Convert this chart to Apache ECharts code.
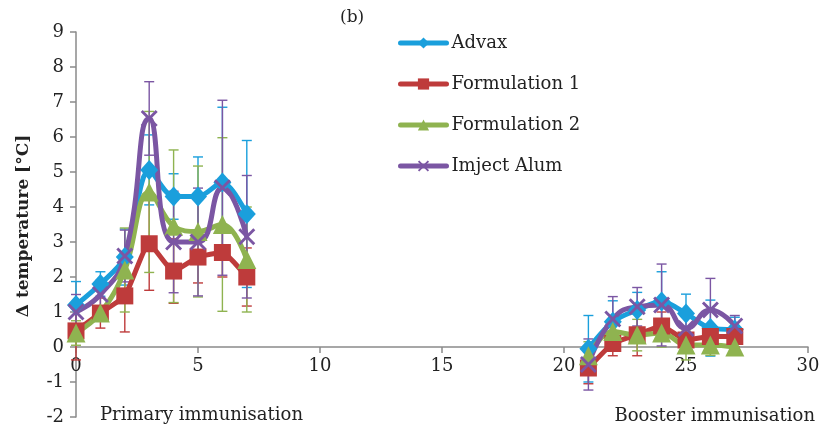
<!DOCTYPE html>
<html>
<head>
<meta charset="utf-8">
<script src="https://cdn.jsdelivr.net/npm/echarts@6/dist/echarts.min.js"></script>
<style>
  html, body { margin: 0; padding: 0; background: #fff; }
  #chart { width: 821px; height: 432px; }
</style>
</head>
<body>
<div id="chart"></div>
<script>
"use strict";

// Days after immunisation (gap between primary and booster)
const days = [0, 1, 2, 3, 4, 5, 6, 7, 21, 22, 23, 24, 25, 26, 27];
const gapAfter = 7;

// Mean temperature change and standard deviation per group
const advax    = [1.2, 1.8, 2.57, 5.06, 4.3, 4.3, 4.7, 3.8, -0.05, 0.72, 1.06, 1.3, 0.96, 0.54, 0.5];
const advaxSd  = [0.67, 0.35, 0.8, 1.0, 0.65, 1.13, 2.15, 2.1, 0.95, 0.6, 0.5, 0.85, 0.55, 0.8, 0.35];
const form1    = [0.46, 0.97, 1.46, 2.95, 2.17, 2.57, 2.7, 2.0, -0.6, 0.1, 0.35, 0.6, 0.2, 0.3, 0.3];
const form1Sd  = [0.83, 0.43, 1.03, 1.33, 0.92, 0.74, 0.7, 0.83, 0.45, 0.35, 0.6, 0.4, 0.35, 0.3, 0.3];
const form2    = [0.4, 0.97, 2.2, 4.43, 3.45, 3.3, 3.5, 2.5, -0.25, 0.44, 0.34, 0.4, 0.06, 0.06, 0.0];
const form2Sd  = [0.35, 0.2, 1.2, 2.3, 2.18, 1.87, 2.48, 1.5, 0.4, 0.3, 0.45, 0.4, 0.43, 0.3, 0.2];
const imject   = [1.0, 1.5, 2.6, 6.53, 3.0, 3.0, 4.55, 3.15, -0.5, 0.8, 1.15, 1.2, 0.53, 1.06, 0.6];
const imjectSd = [0.5, 0.4, 0.74, 1.05, 1.45, 1.54, 2.5, 1.75, 0.73, 0.64, 0.55, 1.17, 0.45, 0.9, 0.3];

const names = ["Advax", "Formulation 1", "Formulation 2", "Imject Alum"];

const FONT = "DejaVu Serif";
const xSymbol = "path://M0,1.2L1.2,0L5,3.8L8.8,0L10,1.2L6.2,5L10,8.8L8.8,10L5,6.2L1.2,10L0,8.8L3.8,5Z";

const groups = [
  { name: names[0], mean: advax,  sd: advaxSd,  color: "#1a9fdc", symbol: "diamond",  size: [18, 20], smooth: 0.3 },
  { name: names[1], mean: form1,  sd: form1Sd,  color: "#be3b3b", symbol: "rect",     size: 17,       smooth: 0.15 },
  { name: names[2], mean: form2,  sd: form2Sd,  color: "#8fb350", symbol: "triangle", size: 19,       smooth: 0.4 },
  { name: names[3], mean: imject, sd: imjectSd, color: "#7b56a3", symbol: xSymbol,    size: 17,       smooth: 0.5 }
];

// Build line data with a break between the two immunisation periods
function lineData(mean) {
  const out = [];
  days.forEach(function (d, i) {
    out.push([d, mean[i]]);
    if (d === gapAfter) out.push([d + 1, null]);
  });
  return out;
}

function errorData(mean, sd) {
  return days.map(function (d, i) {
    return [d, mean[i] - sd[i], mean[i] + sd[i]];
  });
}

function errorSeries(g) {
  return {
    type: "custom",
    name: g.name + " error",
    z: 1,
    silent: true,
    data: errorData(g.mean, g.sd),
    renderItem: function (params, api) {
      const x = api.value(0);
      const lo = api.coord([x, api.value(1)]);
      const hi = api.coord([x, api.value(2)]);
      const half = 5;
      const style = { stroke: g.color, lineWidth: 1.4, fill: null };
      return {
        type: "group",
        children: [
          { type: "line", shape: { x1: lo[0], y1: lo[1], x2: hi[0], y2: hi[1] }, style: style },
          { type: "line", shape: { x1: lo[0] - half, y1: lo[1], x2: lo[0] + half, y2: lo[1] }, style: style },
          { type: "line", shape: { x1: hi[0] - half, y1: hi[1], x2: hi[0] + half, y2: hi[1] }, style: style }
        ]
      };
    },
    encode: { x: 0, y: [1, 2] }
  };
}

function lineSeries(g) {
  return {
    type: "line",
    name: g.name,
    z: 3,
    data: lineData(g.mean),
    smooth: g.smooth,
    connectNulls: false,
    symbol: g.symbol,
    symbolSize: g.size,
    showAllSymbol: true,
    lineStyle: { color: g.color, width: 5 },
    itemStyle: { color: g.color },
    emphasis: { disabled: true }
  };
}

const series = [];
groups.forEach(function (g) { series.push(errorSeries(g)); });
groups.forEach(function (g) { series.push(lineSeries(g)); });

const axisColor = "#8a8a8a";
const labelStyle = { fontFamily: FONT, fontSize: 18, color: "#222" };

// Layout: x axis sits on y = 0, so shift it up from the bottom of the grid
const yMin = -2, yMax = 9;
const grid = { left: 76, right: 13, top: 32, bottom: 15 };
const gridHeight = 432 - grid.top - grid.bottom;
const zeroOffset = -gridHeight * (0 - yMin) / (yMax - yMin);

const chart = echarts.init(document.getElementById("chart"), null, { renderer: "canvas" });

chart.setOption({
  animation: false,
  backgroundColor: "#fff",
  grid: Object.assign({ containLabel: false, outerBoundsMode: "none" }, grid),
  legend: {
    data: names,
    orient: "vertical",
    left: 393,
    top: 29,
    itemWidth: 46,
    itemHeight: 14,
    itemGap: 23,
    lineStyle: { width: 5, cap: "round" },
    textStyle: { fontFamily: FONT, fontSize: 18, color: "#222" }
  },
  xAxis: {
    type: "value",
    min: 0,
    max: 30,
    interval: 5,
    offset: zeroOffset,
    axisLine: { onZero: false, lineStyle: { color: axisColor, width: 1.5 } },
    axisTick: { show: true, inside: false, length: 6, lineStyle: { color: axisColor, width: 1.5 } },
    axisLabel: Object.assign({ margin: 10 }, labelStyle),
    splitLine: { show: false }
  },
  yAxis: {
    type: "value",
    min: yMin,
    max: yMax,
    interval: 1,
    axisLine: { show: true, onZero: false, lineStyle: { color: axisColor, width: 1.5 } },
    axisTick: { show: true, inside: false, length: 6, lineStyle: { color: axisColor, width: 1.5 } },
    axisLabel: Object.assign({ margin: 12 }, labelStyle),
    splitLine: { show: false }
  },
  graphic: [
    {
      type: "text", left: 340, top: 9,
      style: { text: "(b)", fontFamily: FONT, fontSize: 17, fill: "#222" }
    },
    {
      type: "text", left: 100, top: 406,
      style: { text: "Primary immunisation", fontFamily: FONT, fontSize: 18, fill: "#222" }
    },
    {
      type: "text", right: 6, top: 407,
      style: { text: "Booster immunisation", fontFamily: FONT, fontSize: 18, fill: "#222" }
    },
    {
      type: "text", x: 24, y: 226, rotation: Math.PI / 2,
      style: {
        text: "\u0394 temperature [\u00b0C]", fontFamily: FONT, fontSize: 17, fontWeight: "bold",
        fill: "#222", align: "center", verticalAlign: "middle"
      }
    }
  ],
  series: series
});
</script>
</body>
</html>
